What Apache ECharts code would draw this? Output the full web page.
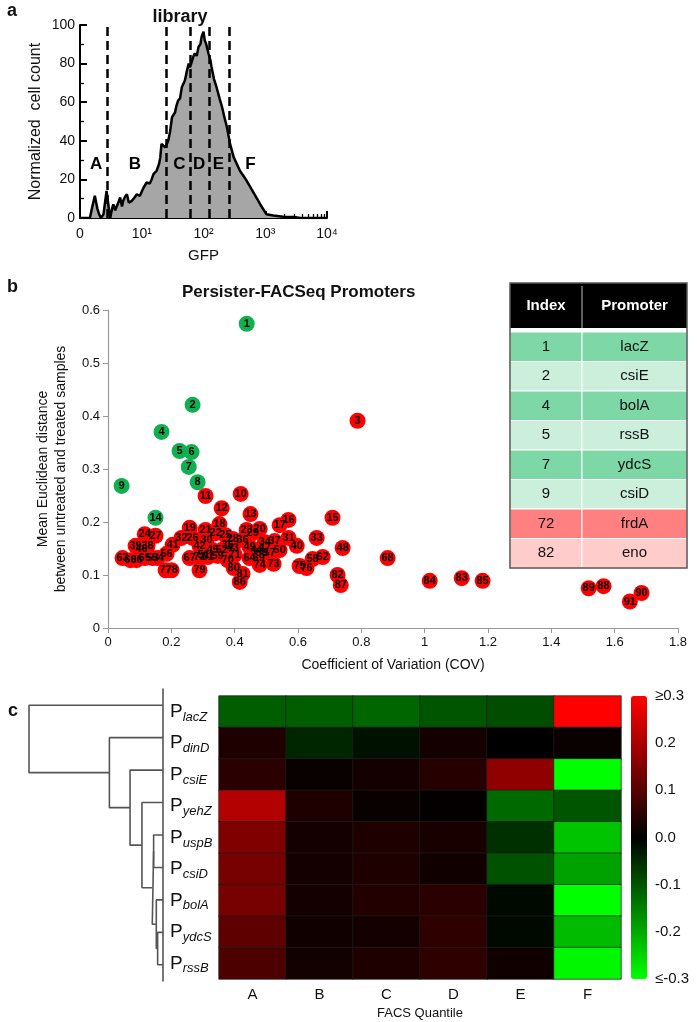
<!DOCTYPE html>
<html><head><meta charset="utf-8">
<script src="https://cdn.jsdelivr.net/npm/echarts@6/dist/echarts.min.js"></script>
<style>html,body{margin:0;padding:0;background:#fff}#c{width:697px;height:1022px}</style>
</head><body><div id="c"></div>
<script>
const FONT = '"Liberation Sans", Arial, Helvetica, sans-serif';

// ---------- Panel a: GFP histogram (x = log10 GFP) ----------
const histLogGFP = [0.00,0.16,0.20,0.24,0.28,0.31,0.34,0.38,0.43,0.47,0.49,0.52,0.54,0.57,0.59,0.62,0.65,0.68,0.70,0.73,0.76,0.79,0.84,0.88,0.92,0.97,1.03,1.08,1.13,1.16,1.19,1.24,1.28,1.30,1.32,1.35,1.38,1.43,1.46,1.49,1.54,1.56,1.59,1.62,1.65,1.68,1.70,1.73,1.76,1.78,1.81,1.84,1.86,1.89,1.92,1.95,1.97,2.00,2.02,2.04,2.06,2.08,2.11,2.13,2.17,2.21,2.26,2.30,2.34,2.38,2.43,2.49,2.54,2.59,2.70,2.81,2.92,3.02,3.13,3.29,3.46,3.57,4.00];
const histCount  = [0,0,6,11.5,5,1.9,0,1.9,14,4,0,5,7,4,3.6,8,10.6,6,8.9,11,12.3,8,8.9,10.5,12.3,11.5,15.8,18.4,17.9,20,22.7,24.5,28,31.4,38.4,39,36.6,40.1,45,52.2,54.8,58,60.9,62,67.9,70,71.4,76,80,78,80.9,84,85.3,84,88.7,90,93.9,96.5,92,90.5,88,85.3,82,78.3,72,67.9,62,57.5,52,47,38.4,31.4,28,24.5,19.3,13.2,7,1.9,1.3,0.7,0.5,0,0];
const gateBounds = [0.44, 1.40, 1.78, 2.09, 2.42];
const gateLetters = ['A','B','C','D','E','F'];
const gateLetterX = [0.26, 0.89, 1.61, 1.93, 2.24, 2.76];
const gateLetterY = 28;
const histXTickLabels = ['0','10¹','10²','10³','10⁴'];

// ---------- Panel b: scatter ----------
const promoterIndex = [];
for (let i = 1; i <= 91; i++) promoterIndex.push(i);
const covValues = [0.438,0.267,0.788,0.169,0.226,0.264,0.255,0.283,0.043,0.419,
0.308,0.359,0.450,0.150,0.709,0.570,0.542,0.352,0.258,0.479,
0.308,0.340,0.438,0.116,0.371,0.267,0.150,0.394,0.457,0.311,
0.570,0.232,0.659,0.495,0.378,0.425,0.526,0.125,0.087,0.596,
0.204,0.289,0.394,0.469,0.330,0.106,0.495,0.741,0.447,0.542,
0.302,0.359,0.141,0.157,0.485,0.185,0.510,0.646,0.346,0.071,
0.315,0.678,0.046,0.447,0.116,0.090,0.258,0.883,0.476,0.378,
0.400,0.289,0.523,0.479,0.605,0.627,0.182,0.201,0.289,0.397,
0.425,0.725,1.117,1.016,1.183,0.416,0.735,1.565,1.518,1.685,1.648];
const distValues = [0.574,0.421,0.391,0.370,0.334,0.332,0.304,0.275,0.268,0.253,
0.249,0.226,0.215,0.208,0.208,0.204,0.194,0.196,0.189,0.187,
0.185,0.179,0.185,0.177,0.175,0.170,0.174,0.168,0.179,0.166,
0.170,0.170,0.170,0.162,0.157,0.166,0.164,0.155,0.155,0.155,
0.157,0.155,0.151,0.147,0.147,0.149,0.151,0.151,0.153,0.147,
0.138,0.147,0.132,0.132,0.142,0.140,0.142,0.130,0.136,0.128,
0.134,0.134,0.132,0.132,0.132,0.128,0.132,0.132,0.132,0.128,
0.138,0.134,0.121,0.119,0.117,0.113,0.109,0.109,0.109,0.113,
0.102,0.100,0.094,0.089,0.089,0.087,0.081,0.079,0.075,0.066,0.050];
const greenIndices = [1,2,4,5,6,7,8,9,14];
const tableIndex = ['1','2','4','5','7','9','72','82'];
const tablePromoter = ['lacZ','csiE','bolA','rssB','ydcS','csiD','frdA','eno'];
const tableRowColor = ['#7dd7a6','#ccefdc','#7dd7a6','#ccefdc','#7dd7a6','#ccefdc','#ff8080','#ffcccc'];

// ---------- Panel c: heatmap + dendrogram ----------
const quantiles = ['A','B','C','D','E','F'];
const promoters = ['lacZ','dinD','csiE','yehZ','uspB','csiD','bolA','ydcS','rssB'];
const heatValues = [
  [-0.11,-0.11,-0.12,-0.10,-0.09, 0.30],
  [ 0.035,-0.045,-0.02,0.025,0.0, 0.01],
  [ 0.05, 0.01, 0.025,0.045,0.17,-0.30],
  [ 0.21, 0.035,0.01, 0.005,-0.125,-0.10],
  [ 0.15, 0.025,0.035,0.03,-0.055,-0.23],
  [ 0.14, 0.025,0.035,0.02,-0.095,-0.19],
  [ 0.14, 0.025,0.04, 0.05,-0.01,-0.30],
  [ 0.11, 0.02, 0.025,0.055,-0.01,-0.22],
  [ 0.09, 0.022,0.035,0.055,0.02,-0.29]
];
// dendrogram linkage: [childA, childB, height]; leaves 0..8, nodes 9..
const linkage = [
  [7, 8, 0.04],
  [6, 9, 0.05],
  [4, 5, 0.07],
  [11, 10, 0.08],
  [3, 12, 0.157],
  [2, 13, 0.246],
  [1, 14, 0.40],
  [0, 15, 1.0]
];

// ---------- build ----------
const histData = histLogGFP.map((x, i) => [x, histCount[i]]);
const letterData = gateLetters.map((l, i) => ({value: [gateLetterX[i], gateLetterY], name: l}));
const minorX = [];
for (let d = 0; d < 4; d++) for (let k = 2; k <= 9; k++) minorX.push(d + Math.log10(k));

const greenPts = [], redPts = [];
promoterIndex.forEach((id, i) => {
  const p = [covValues[i], distValues[i], id];
  (greenIndices.indexOf(id) >= 0 ? greenPts : redPts).push(p);
});

const heatData = [];
heatValues.forEach((row, r) => row.forEach((v, c) => heatData.push([c, r, v])));

const nodeY = {}, nodeH = {};
for (let i = 0; i < promoters.length; i++) { nodeY[i] = i; nodeH[i] = 0; }
const dendroSeries = [];
linkage.forEach((lk, k) => {
  const id = promoters.length + k;
  const [a, b, h] = lk;
  nodeY[id] = (nodeY[a] + nodeY[b]) / 2; nodeH[id] = h;
  dendroSeries.push({
    type: 'line', xAxisIndex: 4, yAxisIndex: 3, symbol: 'none', silent: true,
    lineStyle: {color: '#555', width: 1.6},
    data: [[nodeH[a], nodeY[a]], [h, nodeY[a]], [h, nodeY[b]], [nodeH[b], nodeY[b]]]
  });
});

// table graphic
const tL = 510, tW = 177, tC = 72, tTop = 283, tHead = 45, tGap = 4, tRow = 29.5;
const tableEls = [];
tableEls.push({type: 'rect', shape: {x: tL, y: tTop, width: tW, height: tHead}, style: {fill: '#000'}});
tableEls.push({type: 'line', shape: {x1: tL + tC, y1: tTop + 3, x2: tL + tC, y2: tTop + tHead}, style: {stroke: '#bbb', lineWidth: 1}});
tableEls.push({type: 'text', style: {text: 'Index', x: tL + tC / 2, y: tTop + tHead / 2, align: 'center', verticalAlign: 'middle', fill: '#fff', font: 'bold 15px ' + FONT}});
tableEls.push({type: 'text', style: {text: 'Promoter', x: tL + tC + (tW - tC) / 2, y: tTop + tHead / 2, align: 'center', verticalAlign: 'middle', fill: '#fff', font: 'bold 15px ' + FONT}});
tableIndex.forEach((idx, i) => {
  const y = tTop + tHead + tGap + i * tRow;
  tableEls.push({type: 'rect', shape: {x: tL, y: y, width: tC, height: tRow}, style: {fill: tableRowColor[i], stroke: '#fff', lineWidth: 1}});
  tableEls.push({type: 'rect', shape: {x: tL + tC, y: y, width: tW - tC, height: tRow}, style: {fill: tableRowColor[i], stroke: '#fff', lineWidth: 1}});
  tableEls.push({type: 'text', style: {text: idx, x: tL + tC / 2, y: y + tRow / 2, align: 'center', verticalAlign: 'middle', fill: '#111', font: '15px ' + FONT}});
  tableEls.push({type: 'text', style: {text: tablePromoter[i], x: tL + tC + (tW - tC) / 2, y: y + tRow / 2, align: 'center', verticalAlign: 'middle', fill: '#111', font: '15px ' + FONT}});
});
tableEls.push({type: 'rect', shape: {x: tL, y: tTop, width: tW, height: tHead + tGap + tableIndex.length * tRow}, style: {fill: 'none', stroke: '#555', lineWidth: 1.5}});

const axisFont = {fontFamily: FONT, color: '#111'};

const option = {
  animation: false,
  textStyle: {fontFamily: FONT},
  title: [
    {text: 'library', left: 175, top: 3, textAlign: 'center', textStyle: {fontFamily: FONT, fontSize: 18, fontWeight: 'bold', color: '#111'}},
    {text: 'Persister-FACSeq Promoters', left: 177, top: 279, textStyle: {fontFamily: FONT, fontSize: 17, fontWeight: 'bold', color: '#111'}}
  ],
  grid: [
    {left: 80, width: 247, top: 25, height: 193},
    {left: 108, right: 19, top: 310, bottom: 394},
    {left: 219, right: 76, top: 696, height: 283},
    {left: 29, right: 534, top: 689, height: 292},
    {left: 631, width: 16, top: 696, height: 283}
  ],
  xAxis: [
    {gridIndex: 0, type: 'value', min: 0, max: 4, interval: 1,
     axisLine: {lineStyle: {color: '#000', width: 2}},
     axisTick: {inside: true, length: 7, lineStyle: {color: '#000', width: 2}},
     axisLabel: Object.assign({fontSize: 14, margin: 9, formatter: v => histXTickLabels[Math.round(v)]}, axisFont),
     splitLine: {show: false},
     name: 'GFP', nameLocation: 'middle', nameGap: 30, nameTextStyle: {fontSize: 15, fontFamily: FONT, color: '#111'}},
    {gridIndex: 0, type: 'value', min: 0, max: 4, position: 'bottom',
     axisLine: {show: false}, axisLabel: {show: false}, splitLine: {show: false},
     axisTick: {show: true, inside: true, length: 4, customValues: minorX, lineStyle: {color: '#000', width: 1.3}}},
    {gridIndex: 1, type: 'value', min: 0, max: 1.8, interval: 0.2,
     axisLine: {lineStyle: {color: '#999', width: 1.2}},
     axisTick: {length: 5, lineStyle: {color: '#999'}},
     axisLabel: Object.assign({fontSize: 13, margin: 8}, axisFont),
     splitLine: {show: false},
     name: 'Coefficient of Variation (COV)', nameLocation: 'middle', nameGap: 30,
     nameTextStyle: {fontSize: 14, fontFamily: FONT, color: '#111'}},
    {gridIndex: 2, type: 'category', data: quantiles,
     axisLine: {show: false}, axisTick: {show: false},
     axisLabel: Object.assign({fontSize: 15, margin: 8}, axisFont),
     name: 'FACS Quantile', nameLocation: 'middle', nameGap: 28,
     nameTextStyle: {fontSize: 13, fontFamily: FONT, color: '#111'}},
    {gridIndex: 3, type: 'value', min: 0, max: 1, inverse: true, show: false},
    {gridIndex: 4, type: 'value', min: 0, max: 1, show: false}
  ],
  yAxis: [
    {gridIndex: 0, type: 'value', min: 0, max: 100, interval: 20,
     axisLine: {show: true, lineStyle: {color: '#000', width: 2}},
     axisTick: {show: true, inside: true, length: 7, lineStyle: {color: '#000', width: 2}},
     minorTick: {show: true, splitNumber: 2, length: 4, lineStyle: {color: '#000', width: 1.3}},
     axisLabel: Object.assign({fontSize: 14, margin: 5}, axisFont),
     splitLine: {show: false},
     name: 'Normalized  cell count', nameLocation: 'middle', nameGap: 36,
     nameTextStyle: {fontSize: 16, fontFamily: FONT, color: '#111'}},
    {gridIndex: 1, type: 'value', min: 0, max: 0.6, interval: 0.1,
     axisLine: {show: true, lineStyle: {color: '#999', width: 1.2}},
     axisTick: {show: true, length: 5, lineStyle: {color: '#999'}},
     axisLabel: Object.assign({fontSize: 13, margin: 8}, axisFont),
     splitLine: {show: false},
     name: 'Mean Euclidean distance\nbetween untreated and treated samples', nameLocation: 'middle', nameGap: 38,
     nameTextStyle: {fontSize: 14, lineHeight: 18, fontFamily: FONT, color: '#111'}},
    {gridIndex: 2, type: 'category', data: promoters, inverse: true,
     axisLine: {show: false}, axisTick: {show: false},
     axisLabel: {align: 'left', margin: 49, formatter: v => '{p|P}{s|' + v + '}',
       rich: {p: {fontSize: 19, lineHeight: 24, fontFamily: FONT, color: '#111'},
              s: {fontSize: 13, lineHeight: 12, verticalAlign: 'bottom', fontStyle: 'italic', fontFamily: FONT, color: '#111'}}}},
    {gridIndex: 3, type: 'value', min: -0.5, max: 8.5, inverse: true, position: 'right',
     axisLine: {show: true, onZero: false, lineStyle: {color: '#555', width: 1.6}},
     axisTick: {show: false}, axisLabel: {show: false}, splitLine: {show: false}},
    {gridIndex: 4, type: 'value', min: -0.3, max: 0.3, interval: 0.1, position: 'right',
     axisLine: {show: false}, axisTick: {show: false}, splitLine: {show: false},
     axisLabel: Object.assign({fontSize: 15, margin: 8, formatter: v => v >= 0.29 ? '≥0.3' : (v <= -0.29 ? '≤-0.3' : (Math.abs(v) < 1e-9 ? '0.0' : v.toFixed(1)))}, axisFont)}
  ],
  visualMap: {
    type: 'continuous', min: -0.3, max: 0.3, seriesIndex: 4, calculable: false,
    left: 631, top: 696, padding: 0, itemWidth: 16, itemHeight: 283, orient: 'vertical',
    showLabel: false, text: null,
    inRange: {color: ['#00ff00', '#000000', '#ff0000']}, textStyle: {color: 'rgba(0,0,0,0)'}
  },
  graphic: [
    {type: 'text', left: 7, top: 2, style: {text: 'a', font: 'bold 18px ' + FONT, fill: '#111'}},
    {type: 'text', left: 7, top: 278, style: {text: 'b', font: 'bold 18px ' + FONT, fill: '#111'}},
    {type: 'text', left: 8, top: 702, style: {text: 'c', font: 'bold 18px ' + FONT, fill: '#111'}},
    {type: 'group', children: tableEls}
  ],
  series: [
    {type: 'line', xAxisIndex: 0, yAxisIndex: 0, data: histData, symbol: 'none', z: 2,
     lineStyle: {color: '#000', width: 2.5}, areaStyle: {color: '#a6a6a6', opacity: 1},
     markLine: {symbol: 'none', silent: true, label: {show: false},
       lineStyle: {color: '#000', width: 2.5, type: [9, 5]},
       data: gateBounds.map(v => ({xAxis: v}))}},
    {type: 'scatter', xAxisIndex: 0, yAxisIndex: 0, data: letterData, symbolSize: 1, z: 20,
     itemStyle: {opacity: 0},
     label: {show: true, position: 'inside', formatter: p => p.name, fontSize: 17, fontWeight: 'bold', color: '#000', opacity: 1, fontFamily: FONT},
     labelLayout: {hideOverlap: false}},
    {type: 'scatter', xAxisIndex: 2, yAxisIndex: 1, data: greenPts, symbolSize: 16,
     itemStyle: {color: '#10b050', opacity: 1},
     label: {show: true, position: 'inside', formatter: p => p.value[2], fontSize: 11, fontWeight: 'bold', color: '#000', fontFamily: FONT}},
    {type: 'scatter', xAxisIndex: 2, yAxisIndex: 1, data: redPts, symbolSize: 16,
     itemStyle: {color: '#ff0000', opacity: 1},
     label: {show: true, position: 'inside', formatter: p => p.value[2], fontSize: 11, fontWeight: 'bold', color: '#000', fontFamily: FONT}},
    {type: 'heatmap', xAxisIndex: 3, yAxisIndex: 2, data: heatData,
     itemStyle: {borderColor: 'rgba(30,30,30,0.7)', borderWidth: 1}}
  ].concat(dendroSeries)
};

const chart = echarts.init(document.getElementById('c'), null, {renderer: 'canvas'});
chart.setOption(option);
</script>
</body></html>
